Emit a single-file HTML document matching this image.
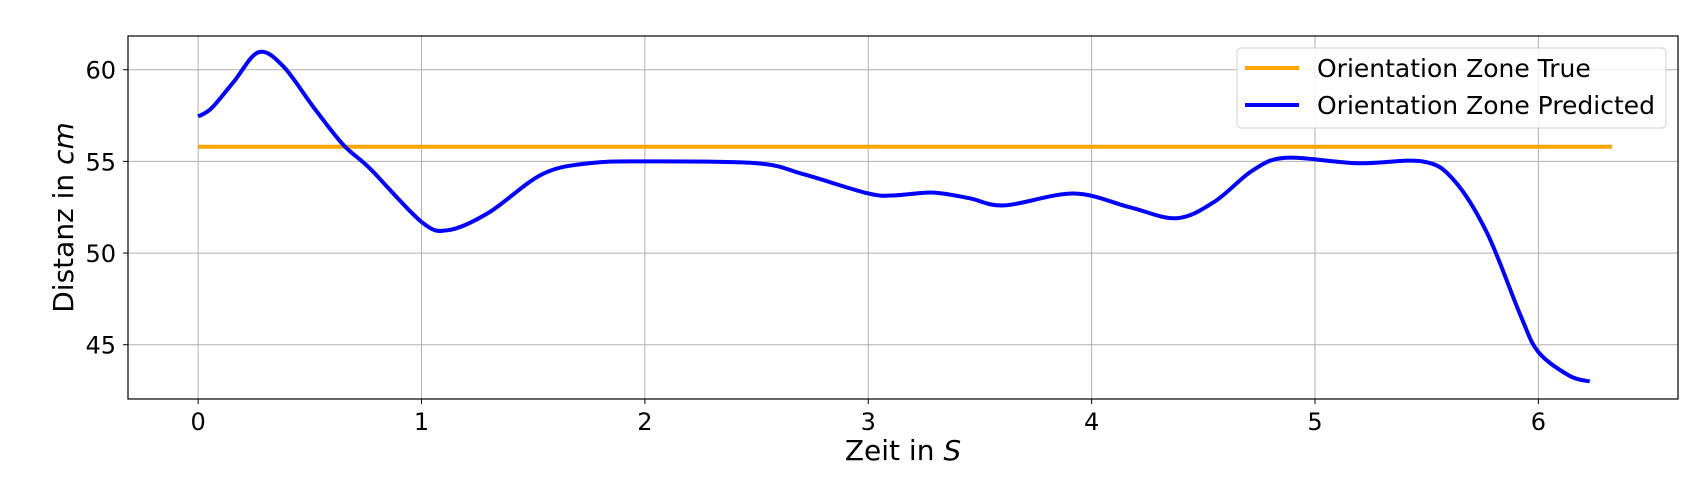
<!DOCTYPE html>
<html><head><meta charset="utf-8"><style>
body{margin:0;background:#fff;}
svg{display:block;font-family:"DejaVu Sans","Liberation Sans",sans-serif;}
</style></head><body>
<svg id="chart" width="1700" height="500"></svg>
<script>
const xTicks=[0,1,2,3,4,5,6];
const yTicks=[45,50,55,60];
const trueX=[0,6.33];
const trueY=[55.8,55.8];
const predX=[0,0.06,0.16,0.27,0.38,0.52,0.65,0.77,1.0,1.12,1.3,1.54,1.75,2.0,2.5,2.71,3.0,3.12,3.29,3.45,3.61,3.92,4.17,4.38,4.55,4.72,4.87,5.19,5.48,5.62,5.77,5.92,6.0,6.14,6.23];
const predY=[57.45,57.9,59.35,60.95,60.2,57.9,55.9,54.6,51.7,51.25,52.2,54.3,54.9,55.0,54.9,54.3,53.25,53.15,53.3,53.0,52.6,53.25,52.5,51.9,52.8,54.5,55.2,54.9,55.0,54.0,51.1,46.6,44.6,43.3,43.0];

const L=128,R=1678,T=36,B=399;
const x0=-0.314,x1=6.625,y0=42.04,y1=61.84;
const sx=v=>L+(v-x0)/(x1-x0)*(R-L);
const sy=v=>B-(v-y0)/(y1-y0)*(B-T);
const svg=document.getElementById('chart');
const NS='http://www.w3.org/2000/svg';
function mk(tag,attrs,parent){const e=document.createElementNS(NS,tag);for(const k in attrs)e.setAttribute(k,attrs[k]);(parent||svg).appendChild(e);return e;}

xTicks.forEach(t=>{
  const g=mk('line',{x1:sx(t),x2:sx(t),y1:T,y2:B,stroke:'#b0b0b0','stroke-width':1});
  
  
  const tk=mk('line',{x1:sx(t),x2:sx(t),y1:B,y2:B+5,stroke:'#000','stroke-width':1});
  
  
  const tx=mk('text',{x:sx(t),y:B+31,'text-anchor':'middle','font-size':24,fill:'#000'});
  tx.textContent=t;
  
  
});
yTicks.forEach(t=>{
  const g=mk('line',{x1:L,x2:R,y1:sy(t),y2:sy(t),stroke:'#b0b0b0','stroke-width':1});
  
  
  const tk=mk('line',{x1:L-5,x2:L,y1:sy(t),y2:sy(t),stroke:'#000','stroke-width':1});
  
  
  const tx=mk('text',{x:L-12,y:sy(t)+9,'text-anchor':'end','font-size':24,fill:'#000'});
  tx.textContent=t;
  
  
});

const tl=mk('line',{x1:sx(trueX[0]),x2:sx(trueX[1]),y1:sy(trueY[0]),y2:sy(trueY[1]),stroke:'orange','stroke-width':4});



const px=predX.map(sx),py=predY.map(sy);
let d='M'+px[0]+','+py[0];
for(let i=0;i<px.length-1;i++){
  const p0=i>0?i-1:i,p3=i+2<px.length?i+2:i+1;
  const c1x=px[i]+(px[i+1]-px[p0])/6,c1y=py[i]+(py[i+1]-py[p0])/6;
  const c2x=px[i+1]-(px[p3]-px[i])/6,c2y=py[i+1]-(py[p3]-py[i])/6;
  d+=` C${c1x},${c1y} ${c2x},${c2y} ${px[i+1]},${py[i+1]}`;
}
const pl=mk('path',{d:d,fill:'none',stroke:'blue','stroke-width':4});



const fr=mk('rect',{x:L,y:T,width:R-L,height:B-T,fill:'none',stroke:'#000','stroke-width':1.2});



const xl=mk('text',{x:(L+R)/2,y:460,'text-anchor':'middle','font-size':28,fill:'#000'});
xl.innerHTML='Zeit in <tspan font-style="italic">S</tspan>';


const yl=mk('text',{x:0,y:0,'text-anchor':'middle','font-size':28,fill:'#000',transform:`translate(73,${(T+B)/2}) rotate(-90)`});
yl.innerHTML='Distanz in <tspan font-style="italic">cm</tspan>';



const lg=mk('g',{});


mk('rect',{x:1237,y:48,width:429,height:80,rx:4,fill:'rgba(255,255,255,0.8)',stroke:'#d0d0d0','stroke-width':1},lg);
const names=['Orientation Zone True','Orientation Zone Predicted'],cols=['orange','blue'];
names.forEach((n,i)=>{
  const y=68+i*37;
  const ln=mk('line',{x1:1245,x2:1299,y1:y,y2:y,stroke:cols[i],'stroke-width':4},lg);
  
  
  const tx=mk('text',{x:1317,y:y+9,'font-size':25,fill:'#000'},lg);
  tx.textContent=n;
  
  
});
</script>
</body></html>
